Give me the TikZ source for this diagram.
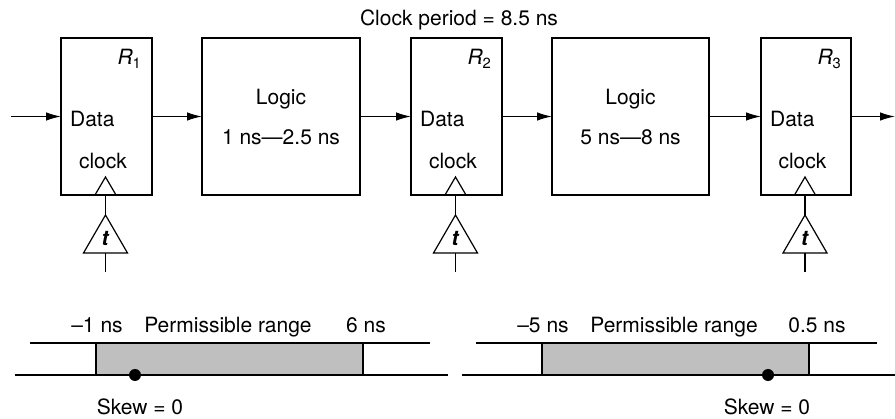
\documentclass[tikz,border=0pt]{standalone}
\usepackage{fontspec}
\setmainfont{TeX Gyre Heros}
\usetikzlibrary{arrows.meta}
\begin{document}
\begin{tikzpicture}[x=1pt,y=-1pt,line width=1.2pt,
  font=\fontsize{21}{25}\selectfont,
  box/.style={draw,rectangle,inner sep=0pt,outer sep=0pt,anchor=north west},
  arr/.style={-{Latex[length=15pt,width=8.5pt]}},
  lbl/.style={inner sep=0pt},
  rangebar/.style={draw,fill=gray!50}]
\useasboundingbox (0,0) rectangle (895,419);

% boxes
\node[box,minimum width=91pt,minimum height=157pt] (r1) at (61,38) {};
\node[box,minimum width=158pt,minimum height=157pt] (l1) at (202,38) {};
\node[box,minimum width=91pt,minimum height=157pt] (r2) at (411,38) {};
\node[box,minimum width=157pt,minimum height=157pt] (l2) at (552,38) {};
\node[box,minimum width=90pt,minimum height=157pt] (r3) at (761,38) {};

\coordinate (in) at (11,116.5);
\coordinate (out) at (895,116.5);
\draw[arr] (in) -- (r1.west);
\draw[arr] (r1.east) -- (l1.west);
\draw[arr] (l1.east) -- (r2.west);
\draw[arr] (r2.east) -- (l2.west);
\draw[arr] (l2.east) -- (r3.west);
\draw[arr] (r3.east) -- (out);

% register contents and clock buffers
\foreach \n/\cx/\bx in {1/105.5/61,2/455.5/411,3/805/761}{
  \node[lbl,anchor=base west] (data\n) at (\bx+8.5,127) {Data};
  \node[lbl,anchor=base] (clk\n) at (\cx-2.5,169) {clock};
  \node[lbl,anchor=base east] (rl\n) at (\bx+81,65) {\textit{R}\textsubscript{\n}};
  \draw (\cx-10.5,195) -- (\cx,177) -- (\cx+10.5,195);
  \draw (\cx,195) -- (\cx,215);
  \draw (\cx-22,253) -- (\cx,215) -- (\cx+22,253) -- cycle;
  \draw (\cx,253) -- (\cx,272);
  \node[lbl,anchor=base] (t\n) at (\cx,246) {\textbf{\textit{t}}};
}

% logic labels
\node[lbl,anchor=base] (lg1) at (281,105) {Logic};
\node[lbl,anchor=base] (dl1) at (281,145) {1 ns—2.5 ns};
\node[lbl,anchor=base] (lg2) at (630.5,105) {Logic};
\node[lbl,anchor=base] (dl2) at (630.5,145) {5 ns—8 ns};

\node[lbl,anchor=base] (period) at (459,26) {Clock period = 8.5 ns};

% permissible ranges
\draw (30,343) -- (430,343);
\draw (15,375) -- (448,375);
\draw[rangebar] (96,343) rectangle (363,375);
\fill (135,375) circle (6pt);
\node[lbl,anchor=base] (a1) at (97,333) {–1 ns};
\node[lbl,anchor=base] (p1) at (228,333) {Permissible range};
\node[lbl,anchor=base] (b1) at (366,333) {6 ns};
\node[lbl,anchor=base] (s1) at (140,415) {Skew = 0};

\draw (476,343) -- (877,343);
\draw (462,375) -- (895,375);
\draw[rangebar] (542,343) rectangle (809,375);
\fill (768,375) circle (6pt);
\node[lbl,anchor=base] (a2) at (543,333) {–5 ns};
\node[lbl,anchor=base] (p2) at (674,333) {Permissible range};
\node[lbl,anchor=base] (b2) at (817,333) {0.5 ns};
\node[lbl,anchor=base] (s2) at (767,415) {Skew = 0};
\end{tikzpicture}
\end{document}
